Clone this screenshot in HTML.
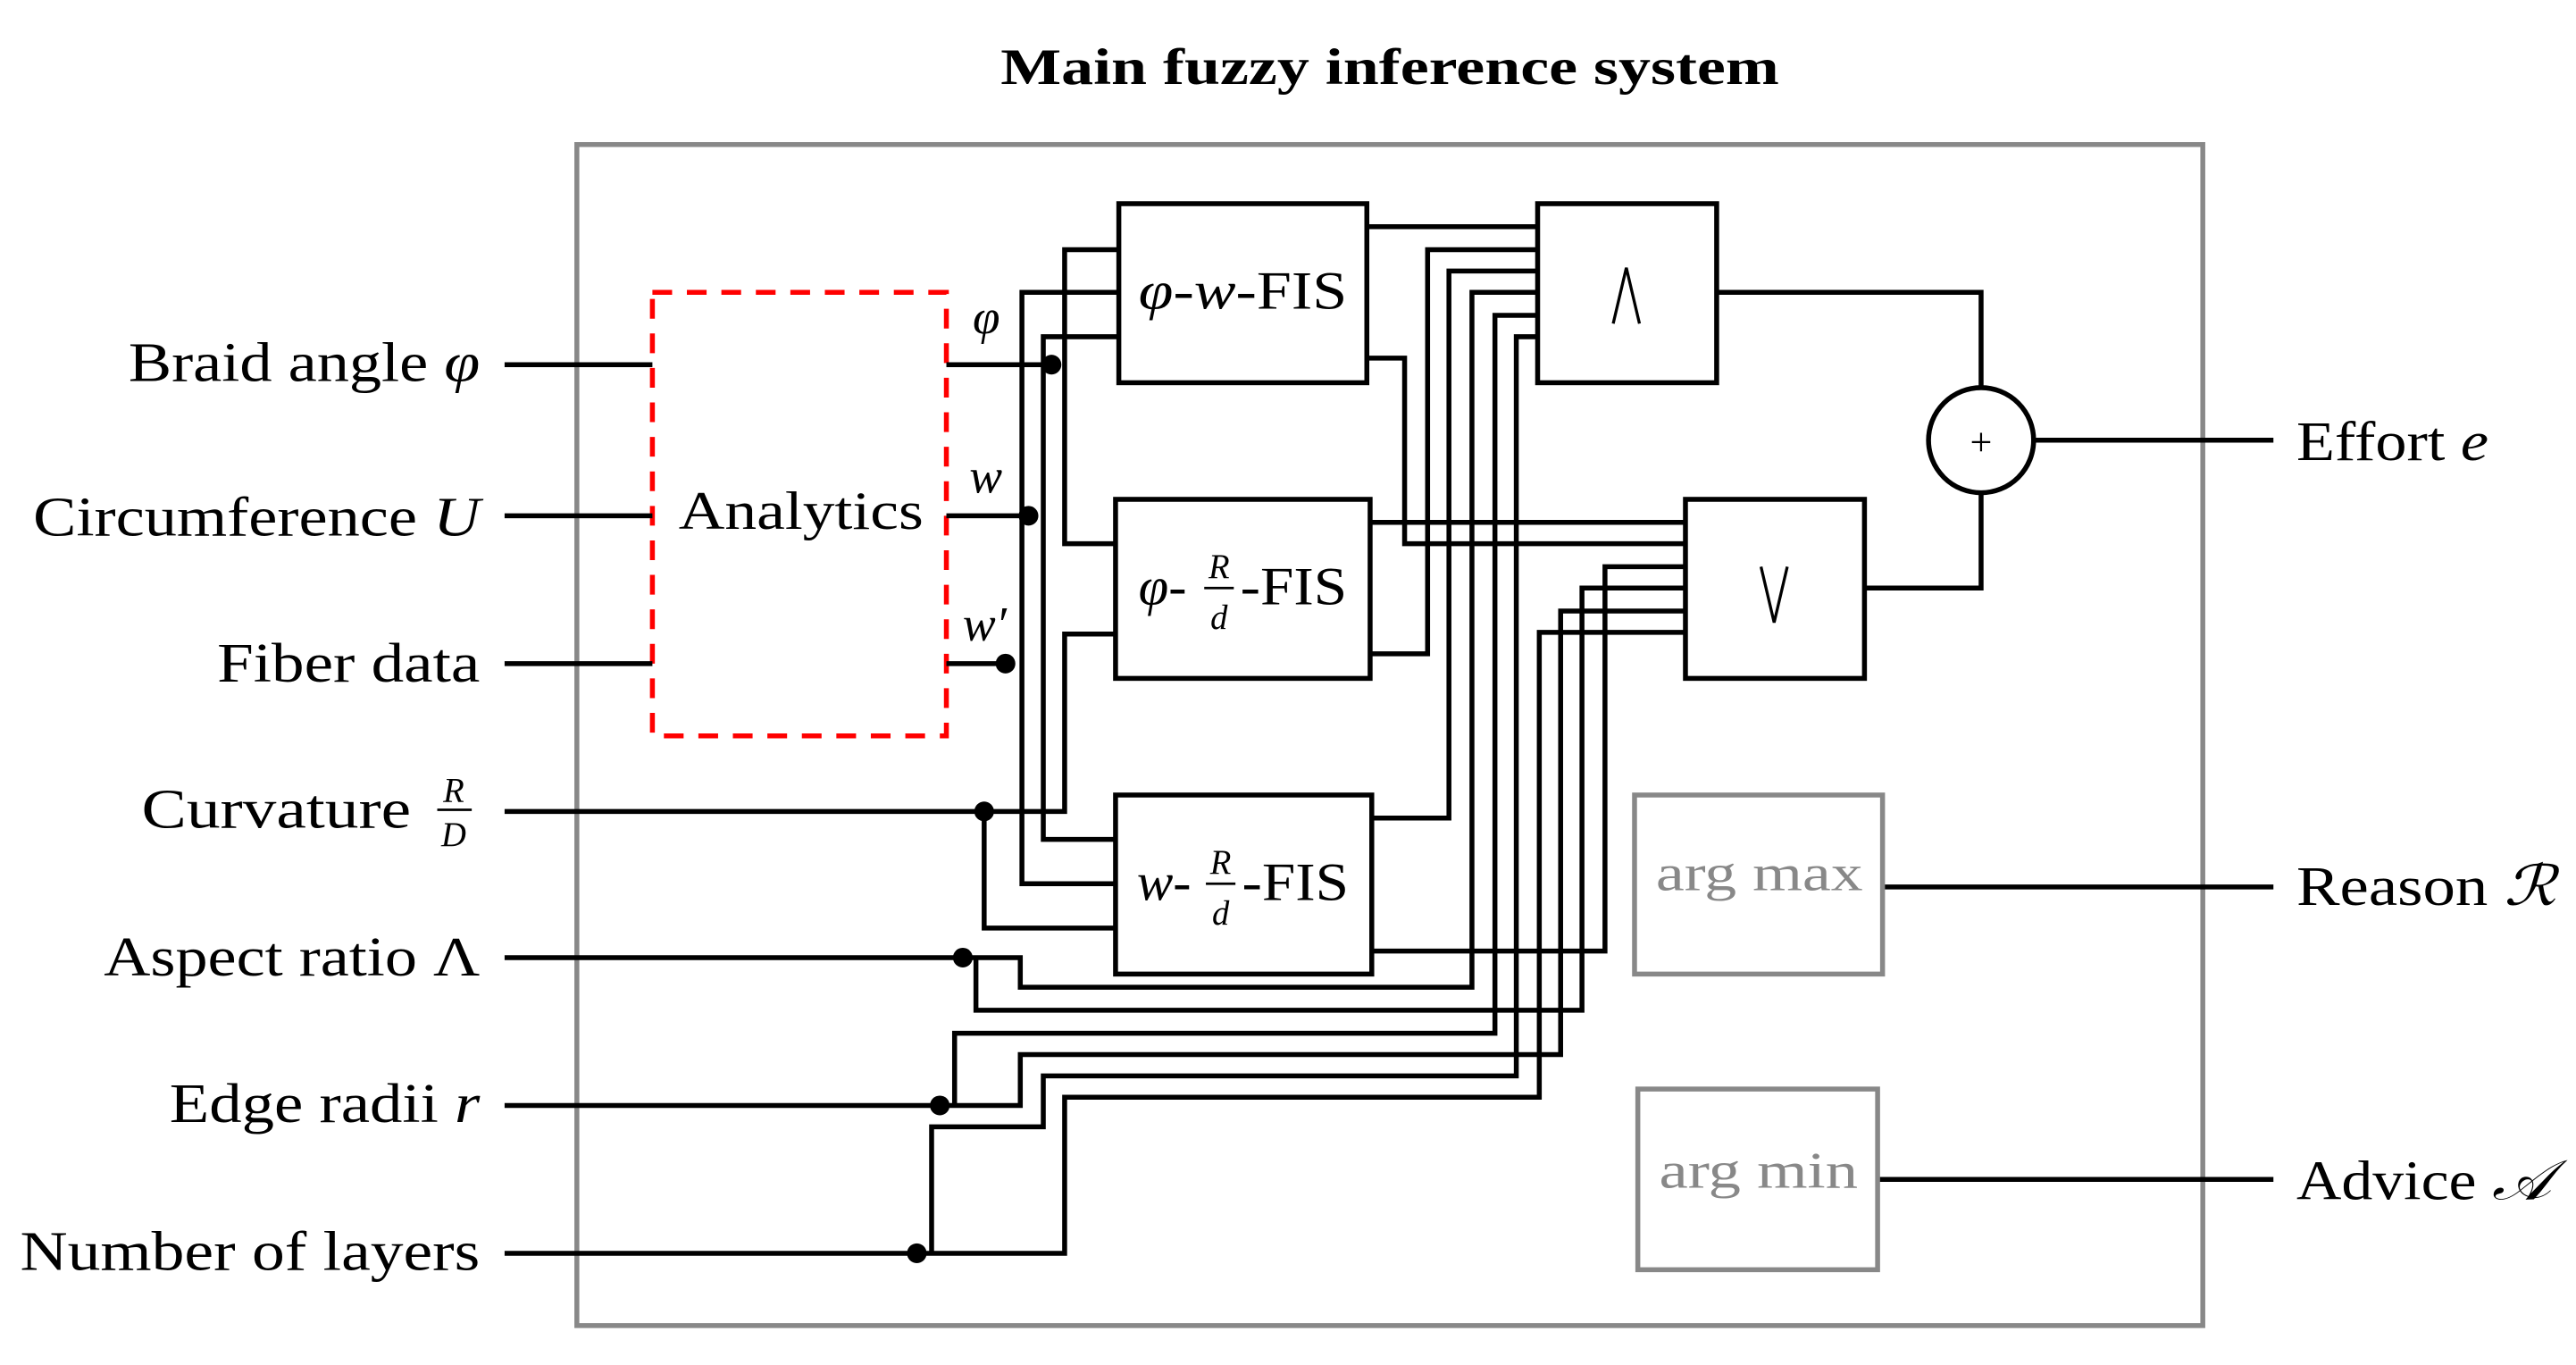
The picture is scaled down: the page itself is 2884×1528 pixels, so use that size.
<!DOCTYPE html>
<html><head><meta charset="utf-8"><style>html,body{margin:0;padding:0;background:#fff}svg{display:block}</style></head>
<body>
<svg xmlns="http://www.w3.org/2000/svg" width="2884" height="1528" viewBox="0 0 1568 831" font-family="Liberation Serif, serif">
<rect width="1568" height="831" fill="#fff"/>
<text x="609" y="51" font-size="31" font-weight="bold" textLength="474" lengthAdjust="spacingAndGlyphs">Main fuzzy inference system</text>
<rect x="351" y="88" width="990" height="719" fill="none" stroke="#888" stroke-width="3"/>
<rect x="397" y="178" width="179" height="270" fill="none" stroke="#f00" stroke-width="3" stroke-dasharray="12,9"/>
<text x="413" y="322" font-size="33" textLength="149" lengthAdjust="spacingAndGlyphs">Analytics</text>
<g font-size="34">
<text x="78" y="232" textLength="214" lengthAdjust="spacingAndGlyphs">Braid angle <tspan font-style="italic">φ</tspan></text>
<text x="20" y="326" textLength="272" lengthAdjust="spacingAndGlyphs">Circumference <tspan font-style="italic">U</tspan></text>
<text x="132" y="415" textLength="160" lengthAdjust="spacingAndGlyphs">Fiber data</text>
<text x="86" y="504" textLength="164" lengthAdjust="spacingAndGlyphs">Curvature</text>
<text x="63" y="594" textLength="229" lengthAdjust="spacingAndGlyphs">Aspect ratio Λ</text>
<text x="103" y="683" textLength="189" lengthAdjust="spacingAndGlyphs">Edge radii <tspan font-style="italic">r</tspan></text>
<text x="12" y="773" textLength="280" lengthAdjust="spacingAndGlyphs">Number of layers</text>
</g>
<g font-size="21" font-style="italic" text-anchor="middle">
<text x="276" y="488">R</text><text x="276" y="515">D</text>
</g>
<line x1="266" y1="493" x2="287" y2="493" stroke="#000" stroke-width="1.5"/>
<g font-size="30" font-style="italic">
<text x="592" y="203">φ</text><text x="590" y="300">w</text><text x="586" y="390">w′</text>
</g>
<g fill="none" stroke="#000" stroke-width="3">
<rect x="681" y="124" width="151" height="109"/>
<rect x="679" y="304" width="155" height="109"/>
<rect x="679" y="484" width="156" height="109"/>
<rect x="936" y="124" width="109" height="109"/>
<rect x="1026" y="304" width="109" height="109"/>
<circle cx="1206" cy="268" r="32"/>
<path d="M307 222H397M307 314H397M307 404H397"/>
<path d="M576 222H640M576 314H626M576 404H612"/>
<path d="M681 152H648V331H679"/>
<path d="M681 178H622V538H679"/>
<path d="M681 205H635V511H679"/>
<path d="M307 494H648V386H679"/>
<path d="M599 494V565H679"/>
<path d="M832 138H936"/>
<path d="M832 218H855V331H1026"/>
<path d="M834 318H1026"/>
<path d="M834 398H869V152H936"/>
<path d="M835 498H882V165H936"/>
<path d="M835 579H977V345H1026"/>
<path d="M307 583H621V601H896V178H936"/>
<path d="M594 583V615H963V358H1026"/>
<path d="M307 673H621V642H950V372H1026"/>
<path d="M581 673V629H910V192H936"/>
<path d="M307 763H648V668H937V385H1026"/>
<path d="M567 763V686H635V655H923V205H936"/>
<path d="M1045 178H1206V236M1135 358H1206V300M1238 268H1384"/>
<path d="M1146 540H1384M1143 718H1384"/>
</g>
<path d="M982 197L990 163L998 197M1072 345L1080 379L1088 345" fill="none" stroke="#000" stroke-width="1.8"/>
<g fill="#000">
<circle cx="640" cy="222" r="6"/><circle cx="626" cy="314" r="6"/><circle cx="612" cy="404" r="6"/>
<circle cx="599" cy="494" r="6"/><circle cx="586" cy="583" r="6"/><circle cx="572" cy="673" r="6"/><circle cx="558" cy="763" r="6"/>
</g>
<text x="693" y="188" font-size="33" textLength="127" lengthAdjust="spacingAndGlyphs"><tspan font-style="italic">φ</tspan>-<tspan font-style="italic">w</tspan>-FIS</text>
<text x="693" y="368" font-size="33" font-style="italic">φ-</text>
<text x="755" y="368" font-size="33" textLength="65" lengthAdjust="spacingAndGlyphs">-FIS</text>
<text x="742" y="352" font-size="21" font-style="italic" text-anchor="middle">R</text>
<text x="742" y="383" font-size="21" font-style="italic" text-anchor="middle">d</text>
<line x1="733" y1="358" x2="751" y2="358" stroke="#000" stroke-width="1.5"/>
<text x="692" y="548" font-size="33" font-style="italic">w-</text>
<text x="756" y="548" font-size="33" textLength="65" lengthAdjust="spacingAndGlyphs">-FIS</text>
<text x="743" y="532" font-size="21" font-style="italic" text-anchor="middle">R</text>
<text x="743" y="563" font-size="21" font-style="italic" text-anchor="middle">d</text>
<line x1="734" y1="538" x2="752" y2="538" stroke="#000" stroke-width="1.5"/>
<text x="1206" y="277" font-size="24" text-anchor="middle">+</text>
<rect x="995" y="484" width="151" height="109" fill="none" stroke="#888" stroke-width="3"/>
<rect x="997" y="663" width="146" height="110" fill="none" stroke="#888" stroke-width="3"/>
<text x="1008" y="542" font-size="31" fill="#888" textLength="126" lengthAdjust="spacingAndGlyphs">arg max</text>
<text x="1010" y="723" font-size="31" fill="#888" textLength="121" lengthAdjust="spacingAndGlyphs">arg min</text>
<g font-size="34">
<text x="1398" y="280" textLength="117" lengthAdjust="spacingAndGlyphs">Effort <tspan font-style="italic">e</tspan></text>
<text x="1398" y="551" textLength="158" lengthAdjust="spacingAndGlyphs">Reason <tspan font-style="italic">ℛ</tspan></text>
<text x="1398" y="730" textLength="155" lengthAdjust="spacingAndGlyphs">Advice <tspan font-style="italic">𝒜</tspan></text>
</g>
</svg>
</body></html>
